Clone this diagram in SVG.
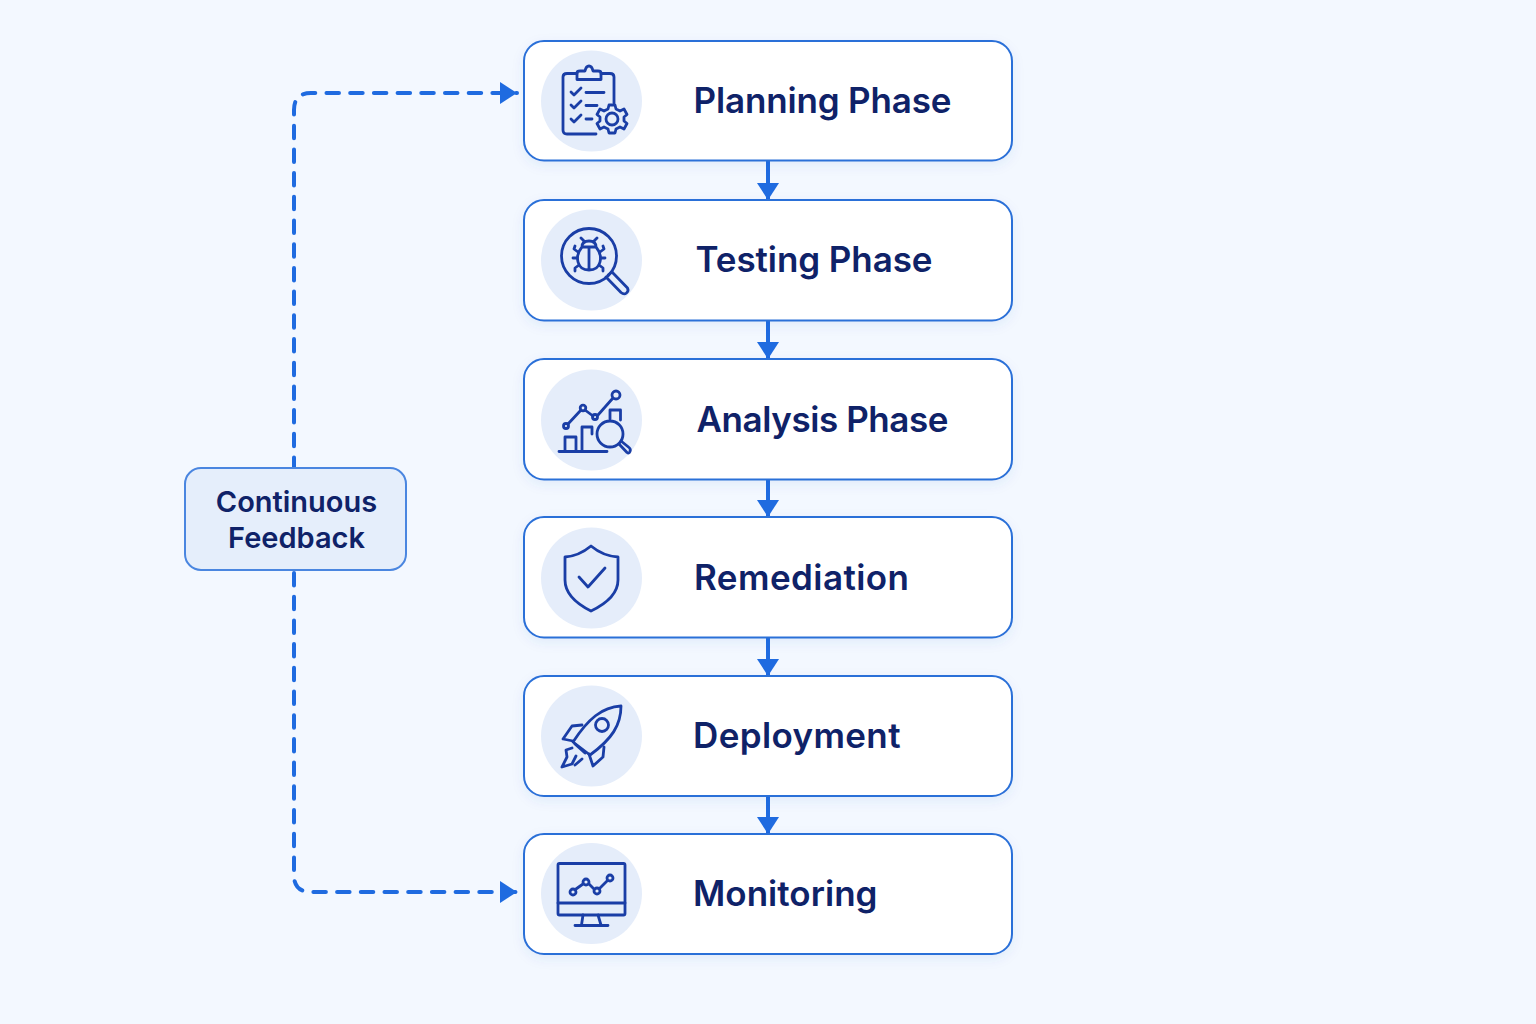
<svg xmlns="http://www.w3.org/2000/svg" width="1536" height="1024" viewBox="0 0 1536 1024">
<style>
text{font-family:"Inter","Noto Sans",sans-serif;font-weight:600;fill:#0f2268}
.t{font-size:35px}
.f{font-size:29px;text-anchor:middle}
.card{fill:#fff;stroke:#2b70d8;stroke-width:2;filter:url(#sh)}
.fb{fill:#e5eefb;stroke:#4a86e0;stroke-width:2}
.disc{fill:#e5edfa}
.i{fill:none;stroke:#1a3ea6;stroke-width:2.800;stroke-linecap:round;stroke-linejoin:round}
.flow{fill:none;stroke:#1f6be0;stroke-width:4;marker-end:url(#ah)}
.dash{fill:none;stroke:#1f6be0;stroke-width:4;stroke-linecap:round;stroke-dasharray:12.500 11.200;marker-end:url(#ah2)}
</style>
<defs>
<filter id="sh" x="-5%" y="-15%" width="110%" height="135%"><feDropShadow dx="0" dy="4" stdDeviation="6" flood-color="#1f5fc0" flood-opacity="0.08"/></filter>
<marker id="ah" markerUnits="userSpaceOnUse" markerWidth="24" markerHeight="18" refX="12" refY="17" orient="0" viewBox="0 0 24 18"><path d="M1 0H23L12 17Z" fill="#1f6be0"/></marker>
<marker id="ah2" markerUnits="userSpaceOnUse" markerWidth="18" markerHeight="24" refX="17" refY="12" orient="auto" viewBox="0 0 18 24"><path d="M0 1L17 12L0 23Z" fill="#1f6be0"/></marker>
</defs>
<rect width="1536" height="1024" fill="#f3f8ff"/>
<g id="connectors">
<path class="flow" d="M768 161V200"/>
<path class="flow" d="M768 321V359"/>
<path class="flow" d="M768 480V517"/>
<path class="flow" d="M768 638V676"/>
<path class="flow" d="M768 796V834"/>
<path class="dash" d="M294 467V110Q294 93 311 93H517" stroke-dashoffset="3"/>
<path class="dash" d="M294 571V875Q294 892 311 892H517" stroke-dashoffset="-2"/>
</g>
<g id="planning">
<rect class="card" x="524" y="41" width="488" height="119.500" rx="20"/>
<circle class="disc" cx="591.500" cy="101" r="50.500"/>
<g class="i">
<path d="M596 134H567Q563 134 563 130V77Q563 73.500 567 73.500H577M601 73.500H610Q614 73.500 614 77V103"/>
<path d="M577 79.500V73Q577 71 580 71H585Q586 66 589 66Q592 66 593 71H598Q601 71 601 73V79.500Z"/>
<path d="M571 92L574 95L581 88M571 105L574 108L581 101M571 119L574 122L581 115"/>
<path d="M586 92.500H604M586 105.500H597M586 119H592"/>
<circle cx="612" cy="119" r="6"/>
<path d="M609 105H615L616 109L620 111L624 109L627 114.500L624 117V121L627 123.500L624 129L620 127L616 129L615 133H609L608 129L604 127L600 129L597 123.500L600 121V117L597 114.500L600 109L604 111L608 109Z"/>
</g>
<text class="t" x="693.500" y="113" textLength="258">Planning Phase</text>
</g>
<g id="testing">
<rect class="card" x="524" y="200" width="488" height="120.500" rx="20"/>
<circle class="disc" cx="591.500" cy="260" r="50.500"/>
<g class="i">
<circle cx="589" cy="256" r="27.500"/>
<path d="M608 275L612 272L627.500 288Q629 291 626.500 293Q624 295 621 292.500L606 277"/>
<path d="M582 247Q582 241 589 241Q596 241 596 247Q602 254 600 262Q598 270 589 270Q580 270 578 262Q576 254 582 247ZM582 247H596M589 247V270"/>
<path d="M584 241L581 238M594 241L597 238M578 252L574 249L575 246M600 252L604 249L603 246M577 258H573M601 258H605M579 265L575 268V271M599 265L603 268V271"/>
</g>
<text class="t" x="695.500" y="272" textLength="237">Testing Phase</text>
</g>
<g id="analysis">
<rect class="card" x="524" y="359" width="488" height="120.500" rx="20"/>
<circle class="disc" cx="591.500" cy="420" r="50.500"/>
<g class="i">
<path d="M568 424L581 410M585 410L593 416M598 415L613 398"/>
<circle cx="566" cy="426" r="2.500"/><circle cx="583" cy="408" r="2.800"/><circle cx="595" cy="417" r="2.500"/><circle cx="616" cy="395" r="4"/>
<path d="M565 450V437H576V450M582 450V427H592V434M610 419V410H620.500V420M559 451.500H607"/>
<circle cx="610" cy="434" r="13"/>
<path d="M619 444L627 452.500Q629 454 630 451.500Q631 449 629 447.500L621 441"/>
</g>
<text class="t" x="696.500" y="432" textLength="252">Analysis Phase</text>
</g>
<g id="remediation">
<rect class="card" x="524" y="517" width="488" height="120.500" rx="20"/>
<circle class="disc" cx="591.500" cy="578" r="50.500"/>
<g class="i">
<path d="M591 546Q579 556 565 557V580Q565 598 591 611Q618 598 618 580V557Q603 556 591 546Z"/>
<path d="M579 577L588 587L605 568"/>
</g>
<text class="t" x="694" y="590" textLength="215">Remediation</text>
</g>
<g id="deployment">
<rect class="card" x="524" y="676" width="488" height="120" rx="20"/>
<circle class="disc" cx="591.500" cy="736" r="50.500"/>
<g class="i">
<path d="M621 706C602 707 588 719 573 742L590 755C612 739 621 725 621 706Z"/>
<circle cx="602" cy="725" r="6.500"/>
<path d="M582 725L572 726L563 739L573 741M604 747L603 757L593 766L589 754"/>
<path d="M575 744L585 753M572 748L566 750L567 757L562 767L572 764L576 756M575 765L582 759"/>
</g>
<text class="t" x="693" y="748" textLength="207.500">Deployment</text>
</g>
<g id="monitoring">
<rect class="card" x="524" y="834" width="488" height="120" rx="20"/>
<circle class="disc" cx="591.500" cy="893.500" r="50.500"/>
<g class="i">
<rect x="558" y="863.500" width="67" height="51.500" rx="1.500"/>
<path d="M558 903H625M583 915L581.500 925M598 915L601 925M575 925.500H608"/>
<path d="M576 889L583 884M589 884L594 889M600 888L607 881"/>
<circle cx="573" cy="892" r="3"/><circle cx="586" cy="882" r="3"/><circle cx="597" cy="891" r="3"/><circle cx="610" cy="878" r="3"/>
</g>
<text class="t" x="693" y="906" textLength="184.500">Monitoring</text>
</g>
<g id="feedback">
<rect class="fb" x="185" y="468" width="221" height="102" rx="16"/>
<text class="f" x="296.500" y="512">Continuous</text>
<text class="f" x="296.500" y="548">Feedback</text>
</g>
</svg>
